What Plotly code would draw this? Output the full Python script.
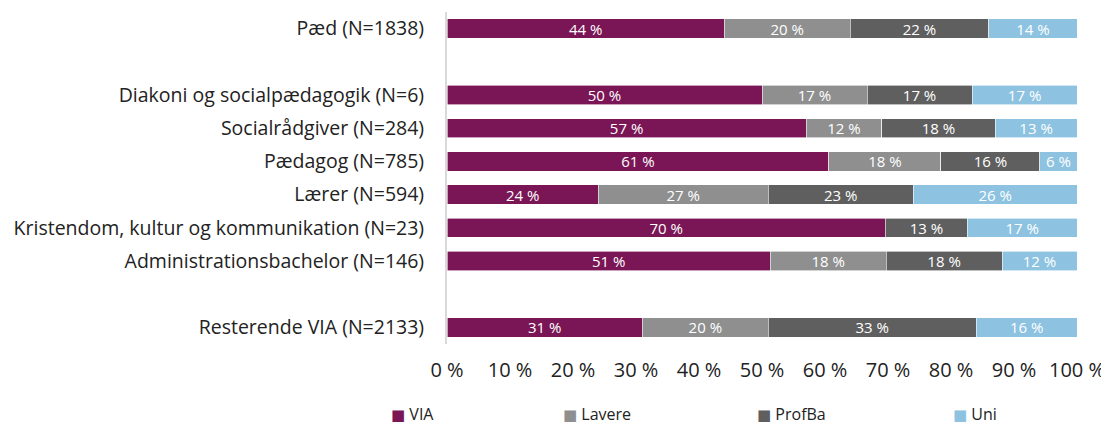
import plotly.graph_objects as go

# Kategorier (top til bund) og deres y-positioner (huller giver mellemrum)
kategorier = [
    "Pæd (N=1838)",
    "Diakoni og socialpædagogik (N=6)",
    "Socialrådgiver (N=284)",
    "Pædagog (N=785)",
    "Lærer (N=594)",
    "Kristendom, kultur og kommunikation (N=23)",
    "Administrationsbachelor (N=146)",
    "Resterende VIA (N=2133)",
]
y_pos = [9, 7, 6, 5, 4, 3, 2, 0]

# andele i procent
via = [44, 50, 57, 60.6, 24, 69.6, 51.3, 31]
lavere = [20, 16.67, 12, 17.8, 27, 0, 18.4, 20]
profba = [22, 16.67, 18, 15.7, 23, 13, 18.4, 33]
uni = [14, 16.67, 13, 5.9, 26, 17.4, 11.9, 16]

serier = [
    ("VIA", via, "#7a1655"),
    ("Lavere", lavere, "#8f8f8f"),
    ("ProfBa", profba, "#5f5f5f"),
    ("Uni", uni, "#8dc3e1"),
]

x_ticks = list(range(0, 101, 10))

# siden har 8 px body-margin, så figuren gøres tilsvarende mindre
W, H = 1101, 418
ML, MR, MT, MB = 439, 32, 4, 82
plot_w = W - ML - MR
plot_h = H - MT - MB

fig = go.Figure()
for navn, vals, farve in serier:
    fig.add_trace(go.Bar(
        name=navn,
        y=y_pos,
        x=vals,
        orientation="h",
        marker=dict(color=farve, line=dict(color="white", width=0.6)),
        text=[f"{round(v)} %" if v > 0 else "" for v in vals],
        textposition="inside",
        insidetextanchor="middle",
        textangle=0,
        constraintext="none",
        textfont=dict(color="white", size=15),
        width=0.58,
    ))

# forklaring som tekst under figuren (farvet firkant + navn)
legend_left = [382, 554, 748, 944]   # px i figuren
legend_mid = 406
for (navn, vals, farve), lx in zip(serier, legend_left):
    fig.add_annotation(
        xref="paper", yref="paper",
        x=(lx - ML) / plot_w, y=(H - MB - legend_mid) / plot_h,
        xanchor="left", yanchor="middle",
        text=f'<span style="color:{farve};font-family:DejaVu Sans;font-size:15px">■</span> {navn}',
        showarrow=False,
        font=dict(size=16, color="#222222"),
        borderpad=0,
    )

fig.update_layout(
    barmode="stack",
    width=W,
    height=H,
    margin=dict(l=ML, r=MR, t=MT, b=MB),
    plot_bgcolor="white",
    paper_bgcolor="white",
    font=dict(family="Open Sans", color="#222222"),
    showlegend=False,
)

fig.update_xaxes(
    range=[0, 100],
    tickvals=x_ticks,
    ticktext=[f"{t} %" for t in x_ticks],
    tickfont=dict(size=20),
    showgrid=False,
    zeroline=False,
    ticklabelstandoff=12,
    automargin=False,
    fixedrange=True,
)
fig.update_yaxes(
    range=[-0.5, 9.5],
    tickvals=y_pos,
    ticktext=kategorier,
    tickfont=dict(size=19.5),
    showgrid=False,
    zeroline=False,
    showline=True,
    linecolor="#d9d9d9",
    linewidth=2,
    ticklabelstandoff=17,
    automargin=False,
)

fig.write_html("out.html")
